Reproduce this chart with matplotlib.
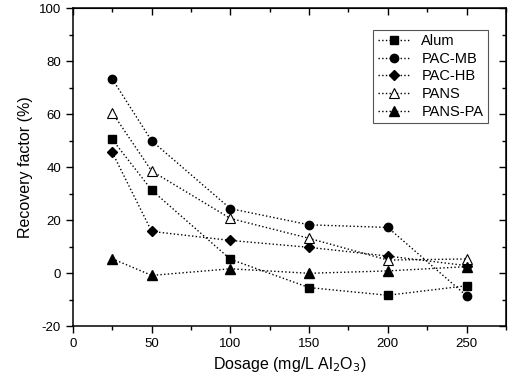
import matplotlib
matplotlib.use("Agg")
import matplotlib.pyplot as plt
from matplotlib.ticker import MultipleLocator

plt.rcParams['font.family'] = ['Liberation Sans', 'DejaVu Sans']
plt.rcParams['axes.unicode_minus'] = False

dosage = [25, 50, 100, 150, 200, 250]
alum = [50.4, 31.3, 5.2, -5.5, -8.4, -4.8]
pac_mb = [73.2, 49.9, 24.3, 18.2, 17.2, -8.6]
pac_hb = [45.5, 15.7, 12.3, 9.7, 6.4, 2.8]
pans = [60.5, 38.5, 20.6, 13.1, 4.9, 5.3]
pans_pa = [5.4, -0.9, 1.6, -0.1, 0.8, 2.4]

fig = plt.figure(figsize=(5.1, 3.84), dpi=100)
ax = fig.add_axes([0.143, 0.151, 0.849, 0.828])

kw = dict(color='black', linestyle=':', linewidth=1.0)
ax.plot(dosage, alum, marker='s', markersize=6, label='Alum', **kw)
ax.plot(dosage, pac_mb, marker='o', markersize=6, label='PAC-MB', **kw)
ax.plot(dosage, pac_hb, marker='D', markersize=5, label='PAC-HB', **kw)
ax.plot(dosage, pans, marker='^', markersize=6.5, markerfacecolor='white',
        markeredgewidth=0.8, label='PANS', **kw)
ax.plot(dosage, pans_pa, marker='^', markersize=6.5, label='PANS-PA', **kw)

ax.set_xlim(0, 275)
ax.set_ylim(-20, 100)
ax.xaxis.set_major_locator(MultipleLocator(50))
ax.xaxis.set_minor_locator(MultipleLocator(25))
ax.yaxis.set_major_locator(MultipleLocator(20))
ax.yaxis.set_minor_locator(MultipleLocator(10))

# origin-style ticks: out on left/bottom, in on top/right
ax.tick_params(which='both', direction='out', labelsize=9.5, width=1)
ax.tick_params(which='major', length=5)
ax.tick_params(which='minor', length=3)
ax2 = ax.secondary_xaxis('top')
ax2.xaxis.set_major_locator(MultipleLocator(50))
ax2.xaxis.set_minor_locator(MultipleLocator(25))
ax2.tick_params(which='both', direction='in', labeltop=False, width=1)
ax2.tick_params(which='major', length=5)
ax2.tick_params(which='minor', length=3)
ay2 = ax.secondary_yaxis('right')
ay2.yaxis.set_major_locator(MultipleLocator(20))
ay2.yaxis.set_minor_locator(MultipleLocator(10))
ay2.tick_params(which='both', direction='in', labelright=False, width=1)
ay2.tick_params(which='major', length=5)
ay2.tick_params(which='minor', length=3)
for s in ax.spines.values():
    s.set_linewidth(1.1)

ax.set_xlabel('Dosage (mg/L Al$_2$O$_3$)', fontsize=11.5)
ax.set_ylabel('Recovery factor (%)', fontsize=11.5)

leg = ax.legend(loc='upper right', bbox_to_anchor=(0.975, 0.955), fontsize=10.5,
                fancybox=False, edgecolor='#555555', framealpha=1,
                handlelength=2.2, borderpad=0.3, labelspacing=0.25)
leg.get_frame().set_linewidth(0.8)

fig.savefig('out.png', dpi=100)
